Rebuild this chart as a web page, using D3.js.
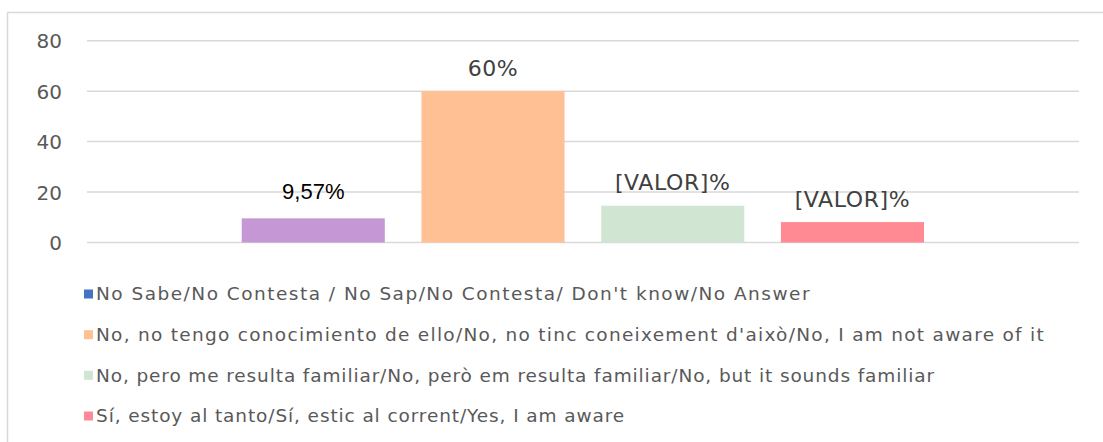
<!DOCTYPE html>
<html>
<head>
<meta charset="utf-8">
<script src="https://cdn.jsdelivr.net/npm/d3@7"></script>
<style>
  html, body { margin: 0; padding: 0; background: #fff; }
  svg { display: block; }
</style>
</head>
<body>
<svg id="chart" width="1103" height="442"></svg>
<script>
// Series of the survey question (one bar per answer)
const seriesKeys = ["nsnc", "extra", "notAware", "familiar", "aware"];
const seriesValues = [0, 9.57, 60, 14.6, 8.1];
const seriesColors = ["#4472C4", "#C597D5", "#FFC094", "#D0E6D2", "#FF8A93"];
const dataLabels = ["", "9,57%", "60%", "[VALOR]%", "[VALOR]%"];
const yTicks = [0, 20, 40, 60, 80];

// Legend entries (series shown in the legend)
const legendKeys = ["nsnc", "notAware", "familiar", "aware"];
const legendLabels = [
  "No Sabe/No Contesta / No Sap/No Contesta/ Don't know/No Answer",
  "No, no tengo conocimiento de ello/No, no tinc coneixement d'això/No, I am not aware of it",
  "No, pero me resulta familiar/No, però em resulta familiar/No, but it sounds familiar",
  "Sí, estoy al tanto/Sí, estic al corrent/Yes, I am aware"
];

const svg = d3.select("#chart");
const font = "'DejaVu Sans', sans-serif";

// Chart frame (top and left edges)
svg.append("path")
  .attr("d", "M7.5,442 V12.5 H1103")
  .attr("fill", "none")
  .attr("stroke", "#d9d9d9")
  .attr("stroke-width", 1.5);

const plot = { left: 87, right: 1079, top: 40.7, bottom: 242.5 };

const y = d3.scaleLinear().domain([0, 80]).range([plot.bottom, plot.top]);
const x = d3.scaleBand()
  .domain(seriesKeys)
  .range([62, 924])
  .paddingInner(0.204)
  .paddingOuter(0);

// Gridlines
svg.append("g")
  .selectAll("line")
  .data(yTicks)
  .join("line")
  .attr("x1", plot.left).attr("x2", plot.right)
  .attr("y1", d => y(d)).attr("y2", d => y(d))
  .attr("stroke", "#d9d9d9")
  .attr("stroke-width", 1.5);

// Y axis labels
const yAxis = d3.axisLeft(y).tickValues(yTicks).tickSize(0).tickPadding(0);
const yg = svg.append("g").attr("transform", `translate(62,0)`).call(yAxis);
yg.select(".domain").remove();
yg.selectAll("text")
  .attr("font-family", font)
  .attr("font-size", 20)
  .attr("fill", "#595959")
  .attr("dy", "0.35em");

// Bars
const data = seriesKeys.map((k, i) => ({ key: k, value: seriesValues[i], color: seriesColors[i], label: dataLabels[i] }));
svg.append("g")
  .selectAll("rect")
  .data(data)
  .join("rect")
  .attr("x", d => x(d.key))
  .attr("y", d => y(d.value))
  .attr("width", x.bandwidth())
  .attr("height", d => y(0) - y(d.value))
  .attr("fill", d => d.color);

// Data labels
svg.append("g")
  .selectAll("text")
  .data(data.filter(d => d.label))
  .join("text")
  .attr("x", d => x(d.key) + x.bandwidth() / 2)
  .attr("y", d => y(d.value) - (d.key === "extra" ? 19 : 15.5))
  .attr("text-anchor", "middle")
  .attr("font-family", d => d.key === "extra" ? "'Liberation Sans', Arial, sans-serif" : font)
  .attr("font-size", 22)
  .attr("letter-spacing", d => d.key === "extra" ? 0 : 0.6)
  .attr("fill", d => d.key === "extra" ? "#000" : "#404040")
  .text(d => d.label);

// Legend
const legend = svg.append("g");
const rowY = d3.scalePoint().domain(legendKeys).range([294, 416]);
const legendRight = [811, 1045, 935, 625];   // right end of each entry's lettering
legendKeys.forEach((k, i) => {
  const cy = rowY(k);
  const col = seriesColors[seriesKeys.indexOf(k)];
  legend.append("rect")
    .attr("x", 84).attr("y", cy - 4.5)
    .attr("width", 9).attr("height", 9)
    .attr("fill", col);
  const t = legend.append("text")
    .attr("x", 96).attr("y", cy)
    .attr("dy", "0.35em")
    .attr("font-family", font)
    .attr("font-size", 18.5)
    .attr("fill", "#595959")
    .text(legendLabels[i]);
  const w = t.node().getComputedTextLength();
  const ls = (legendRight[i] - 96 - w) / legendLabels[i].length;
  t.attr("letter-spacing", ls);
});
</script>
</body>
</html>
